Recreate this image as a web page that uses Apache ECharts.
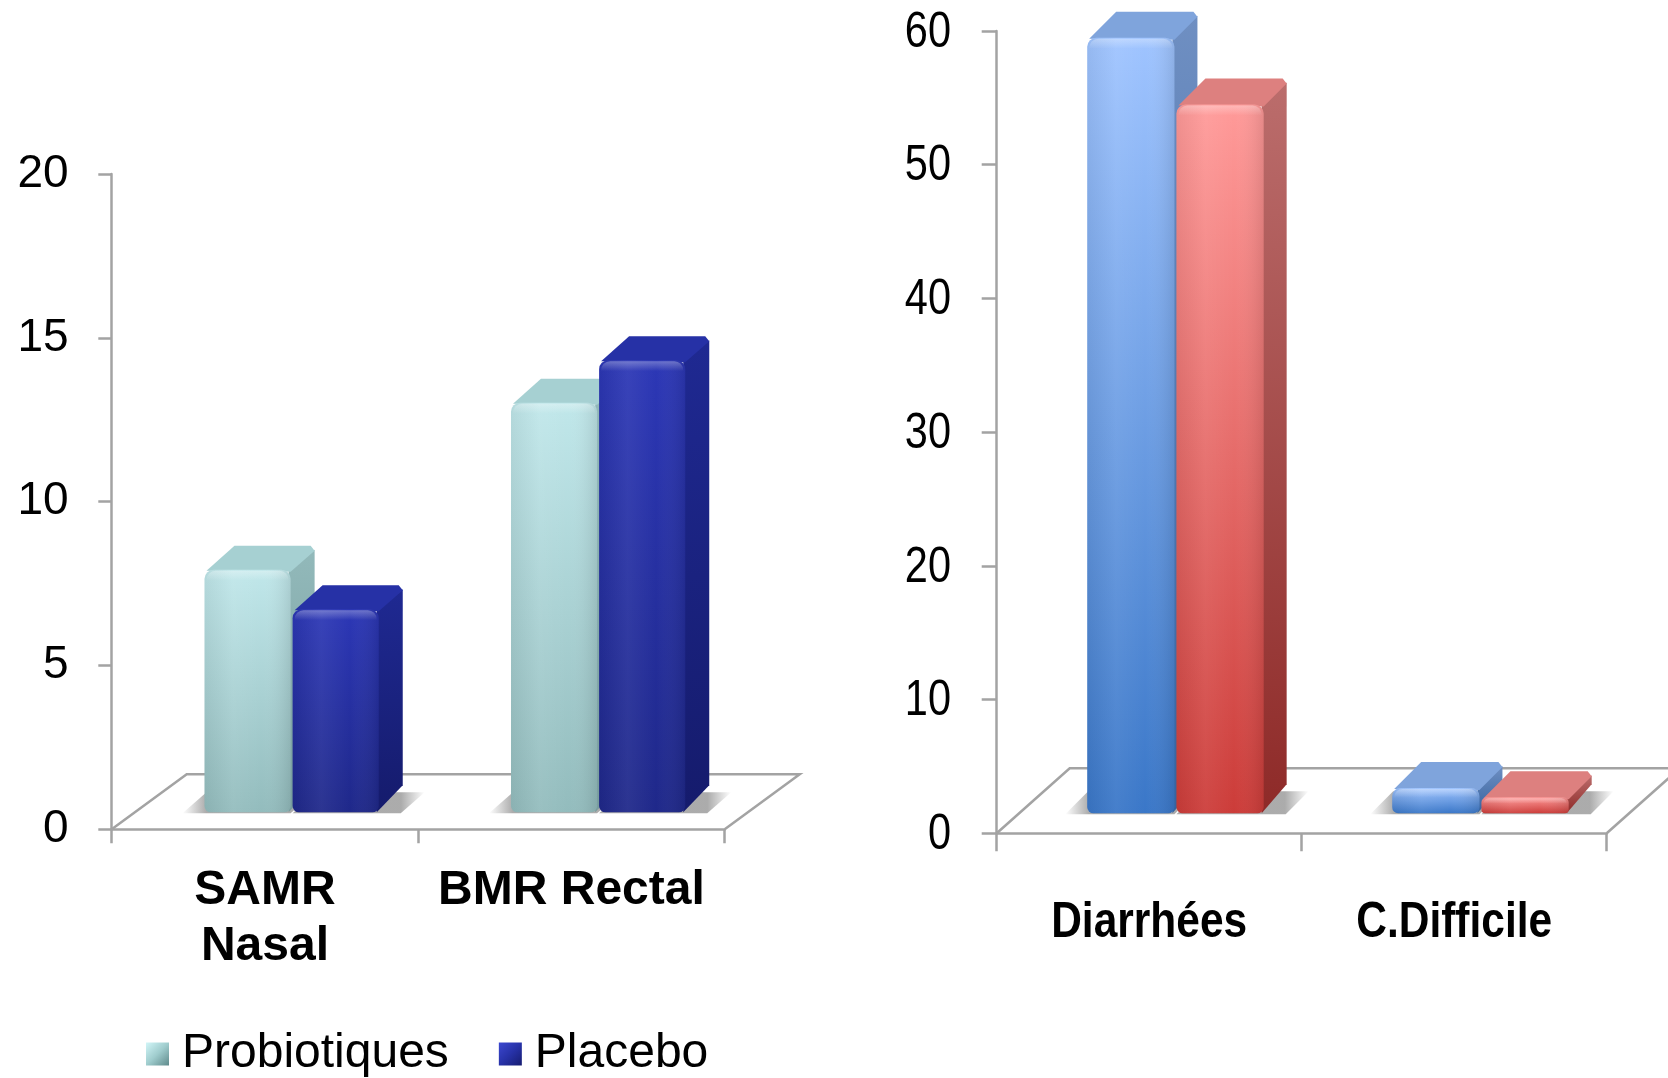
<!DOCTYPE html>
<html>
<head>
<meta charset="utf-8">
<script src="https://cdn.jsdelivr.net/npm/echarts@6/dist/echarts.min.js"></script>
<style>
  html, body { margin: 0; padding: 0; background: #fff; }
  #chart { width: 1668px; height: 1078px; }
</style>
</head>
<body>
<div id="chart"></div>
<script>
// ---- Colonisation (left panel) ----
const colonisationSites = ['SAMR\nNasal', 'BMR Rectal'];
const probiotiques = [7.4, 12.5];
const placebo = [6.2, 13.8];
const colonisationMax = 20;
const colonisationStep = 5;

// ---- Digestive outcomes (right panel) ----
const digestifCats = ['Diarrhées', 'C.Difficile'];
const digestifProbiotiques = [58, 1.9];
const digestifPlacebo = [53, 1.2];
const digestifTicks = [0, 10, 20, 30, 40, 50, 60];
const digestifMax = 60;
const digestifStep = 10;

const AXIS_GREY = '#a3a3a3';
const SANS = '"Liberation Sans", Arial, sans-serif';

const lg = (a, b, stops) => new echarts.graphic.LinearGradient(a[0], a[1], b[0], b[1],
  stops.map((c, i) => (typeof c === 'string' ? { offset: i / (stops.length - 1), color: c } : c)));

// Colour sets for the bevelled boxes
const palettes = {
  aqua:  { frontTop: '#c0e7ea', frontBot: '#93bcbd', top: '#a6d0d2', sideTop: '#92b9ba', sideBot: '#779c9d' },
  navy:  { frontTop: '#2c37b6', frontBot: '#1f288a', top: '#2631a6', sideTop: '#1f2992', sideBot: '#151b6c' },
  blue:  { frontTop: '#9fc4ff', frontBot: '#3a77c8', top: '#7fa4dc', sideTop: '#6f8fc2', sideBot: '#35639f' },
  red:   { frontTop: '#ff9a99', frontBot: '#cc3c39', top: '#dd807f', sideTop: '#bb6d6c', sideBot: '#8e2a28' }
};

// Geometry of the oblique 3-D look, per panel
const geomLeft  = { barFrac: 0.281, gap: 2, shiftFrac: 0.087, lift: 17, dx: 24, dy: -24, floor: { dx: 75, dy: -55 } };
const geomRight = { barFrac: 0.286, gap: 2, shiftFrac: 0.086, lift: 20, dx: 23, dy: -26, floor: { dx: 73, dy: -65 } };

const SHADE = 'rgba(70,70,70,';
function boxRenderer(slot, pal, g) {
  return function (params, api) {
    const cat = api.value(0);
    const val = api.value(1);
    const zero = api.coord([cat, 0]);
    const head = api.coord([cat, val]);
    const band = api.size([1, 0])[0];
    const barW = band * g.barFrac;
    const pairW = 2 * barW + g.gap;
    const x0 = zero[0] + band * g.shiftFrac - pairW / 2 + slot * (barW + g.gap);
    const yb = zero[1] - g.lift;
    const yt = head[1] - g.lift;
    const dx = g.dx, dy = g.dy;
    const h = yb - yt;
    const r = Math.min(9, h / 3);
    const sw = 22; // reach of the floor shadow beyond the box
    // the outer bar of each pair casts a soft shadow outward on the floor
    const shadow = slot === 0
      ? {
          type: 'polygon',
          shape: { points: [[x0 - sw, yb + 1], [x0 + barW, yb + 1], [x0 + barW + dx, yb + dy + 4], [x0 + dx - sw, yb + dy + 4]] },
          style: { fill: lg([0, 0], [1, 0], [
            { offset: 0, color: SHADE + '0)' }, { offset: 0.18, color: SHADE + '0.45)' }, { offset: 1, color: SHADE + '0.45)' }]) }
        }
      : {
          type: 'polygon',
          shape: { points: [[x0, yb + 1], [x0 + barW + sw, yb + 1], [x0 + barW + dx + sw, yb + dy + 4], [x0 + dx, yb + dy + 4]] },
          style: { fill: lg([0, 0], [1, 0], [
            { offset: 0, color: SHADE + '0.45)' }, { offset: 0.82, color: SHADE + '0.45)' }, { offset: 1, color: SHADE + '0)' }]) }
        };
    return {
      type: 'group',
      children: [
        shadow,
        // right side face
        {
          type: 'polygon',
          shape: { points: [[x0 + barW - 2, yt + 2], [x0 + barW + dx, yt + dy + 4], [x0 + barW + dx, yb + dy - 3], [x0 + barW - 2, yb]] },
          style: { fill: lg([0, 0], [0, 1], [pal.sideTop, pal.sideBot]) }
        },
        // top face
        {
          type: 'polygon',
          shape: { points: [[x0 + 2, yt + 1], [x0 + dx + 6, yt + dy], [x0 + barW + dx - 4, yt + dy], [x0 + barW + dx, yt + dy + 5], [x0 + barW, yt + 2]] },
          style: { fill: pal.top }
        },
        // front face
        {
          type: 'rect',
          shape: { x: x0, y: yt, width: barW, height: h, r: [r, r, r * 0.7, r * 0.7] },
          style: { fill: lg([0, 0], [0, 1], [pal.frontTop, pal.frontBot]) }
        },
        // horizontal shading across the front face
        {
          type: 'rect',
          shape: { x: x0, y: yt, width: barW, height: h, r: [r, r, r * 0.7, r * 0.7] },
          style: { fill: lg([0, 0], [1, 0], ['rgba(0,0,0,0.06)', 'rgba(255,255,255,0.06)', 'rgba(255,255,255,0)', 'rgba(0,0,0,0.10)']) }
        },
        // bevel highlight along the top edge
        {
          type: 'rect',
          shape: { x: x0 + 2, y: yt + 1, width: barW - 4, height: Math.min(10, h / 3), r: [r, r, 0, 0] },
          style: { fill: lg([0, 0], [0, 1], ['rgba(255,255,255,0.30)', 'rgba(255,255,255,0)']) }
        }
      ]
    };
  };
}

function floorRenderer(depth) {
  return function (params) {
    const cs = params.coordSys;
    const x1 = cs.x, x2 = cs.x + cs.width, y = cs.y + cs.height;
    return {
      type: 'polyline',
      silent: true,
      shape: { points: [[x1, y], [x1 + depth.dx, y + depth.dy], [x2 + depth.dx, y + depth.dy], [x2, y]] },
      style: { stroke: AXIS_GREY, lineWidth: 2.5, fill: null }
    };
  };
}

// Condensed labels for the right panel: real text, narrowed horizontally
const NARROW_SCALE = 0.83;
function valueLabelRenderer(margin, size) {
  return function (params, api) {
    const cs = params.coordSys;
    const p = api.coord([0, api.value(1)]);
    return {
      type: 'text', silent: true,
      x: cs.x - margin, y: p[1] + 2, scaleX: NARROW_SCALE, originX: 0, originY: 0,
      style: { text: String(api.value(1)), fill: '#000', fontFamily: SANS, fontSize: size,
               align: 'right', verticalAlign: 'middle' }
    };
  };
}
function categoryLabelRenderer(labels, offset, size) {
  return function (params, api) {
    const cs = params.coordSys;
    const i = api.value(0);
    const p = api.coord([i, 0]);
    return {
      type: 'text', silent: true,
      x: p[0], y: cs.y + cs.height + offset, scaleX: 0.85, originX: 0, originY: 0,
      style: { text: labels[i], fill: '#000', fontFamily: SANS, fontSize: size, fontWeight: 'bold',
               align: 'center', verticalAlign: 'middle' }
    };
  };
}

function valueAxis(gridIndex, max, step, size, margin, tickLen, showLabel) {
  return {
    type: 'value', gridIndex, min: 0, max, interval: step,
    axisLine: { show: true, lineStyle: { color: AXIS_GREY, width: 2.5 } },
    axisTick: { show: true, length: tickLen, lineStyle: { color: AXIS_GREY, width: 2.5 } },
    splitLine: { show: false },
    axisLabel: { show: showLabel, color: '#000', fontFamily: SANS, fontSize: size, margin, padding: [8, 0, 0, 0] }
  };
}

function categoryAxis(gridIndex, cats, size, lineHeight, margin, tickLen, showLabel) {
  return {
    type: 'category', gridIndex, data: cats, boundaryGap: true,
    axisLine: { show: true, lineStyle: { color: AXIS_GREY, width: 2.5 } },
    axisTick: { show: true, length: tickLen, lineStyle: { color: AXIS_GREY, width: 2.5 } },
    axisLabel: { show: showLabel, color: '#000', fontFamily: SANS, fontSize: size, fontWeight: 'bold', lineHeight, margin, interval: 0 }
  };
}

const toPairs = arr => arr.map((v, i) => [i, v]);

const chart = echarts.init(document.getElementById('chart'), null, { renderer: 'canvas' });
chart.setOption({
  animation: false,
  backgroundColor: '#ffffff',
  grid: [
    { left: 111.7, top: 174, width: 613, height: 655.3 },
    { left: 996.7, top: 31, width: 610, height: 802.3 }
  ],
  xAxis: [
    categoryAxis(0, colonisationSites, 48, 56, 33, 14, true),
    categoryAxis(1, digestifCats, 50, 50, 65, 18, false)
  ],
  yAxis: [
    valueAxis(0, colonisationMax, colonisationStep, 46, 43, 13.4, true),
    valueAxis(1, digestifMax, digestifStep, 50, 45, 15, false)
  ],
  legend: {
    left: 146, top: 1030, padding: 0,
    itemWidth: 23, itemHeight: 23, itemGap: 50,
    icon: 'rect', selectedMode: false,
    textStyle: { color: '#000', fontFamily: SANS, fontSize: 48, lineHeight: 48, padding: [0, 0, 0, 8] },
    data: [
      { name: 'Probiotiques', itemStyle: { color: lg([0, 0], [1, 1], ['#d2f6f8', '#9fcccd', '#5f8a8b']) } },
      { name: 'Placebo', itemStyle: { color: lg([0, 0], [1, 1], ['#3c48d0', '#2732a8', '#161c70']) } }
    ]
  },
  series: [
    { type: 'custom', name: 'sol-g', xAxisIndex: 0, yAxisIndex: 0, data: [[0, 0]], renderItem: floorRenderer(geomLeft.floor), silent: true, z: 1 },
    { type: 'custom', name: 'Probiotiques', xAxisIndex: 0, yAxisIndex: 0, data: toPairs(probiotiques), encode: { x: 0, y: 1 }, renderItem: boxRenderer(0, palettes.aqua, geomLeft), z: 2 },
    { type: 'custom', name: 'Placebo', xAxisIndex: 0, yAxisIndex: 0, data: toPairs(placebo), encode: { x: 0, y: 1 }, renderItem: boxRenderer(1, palettes.navy, geomLeft), z: 3 },
    { type: 'custom', name: 'sol-d', xAxisIndex: 1, yAxisIndex: 1, data: [[0, 0]], renderItem: floorRenderer(geomRight.floor), silent: true, z: 1 },
    { type: 'custom', name: 'Probiotiques', xAxisIndex: 1, yAxisIndex: 1, data: toPairs(digestifProbiotiques), encode: { x: 0, y: 1 }, renderItem: boxRenderer(0, palettes.blue, geomRight), z: 2 },
    { type: 'custom', name: 'Placebo', xAxisIndex: 1, yAxisIndex: 1, data: toPairs(digestifPlacebo), encode: { x: 0, y: 1 }, renderItem: boxRenderer(1, palettes.red, geomRight), z: 3 },
    { type: 'custom', name: 'graduations-d', xAxisIndex: 1, yAxisIndex: 1, data: digestifTicks.map(v => [0, v]), encode: { x: 0, y: 1 }, renderItem: valueLabelRenderer(45.7, 50), silent: true, z: 4 },
    { type: 'custom', name: 'categories-d', xAxisIndex: 1, yAxisIndex: 1, data: digestifCats.map((c, i) => [i, 0]), encode: { x: 0, y: 1 }, renderItem: categoryLabelRenderer(digestifCats, 90, 50), silent: true, z: 4 }
  ]
});
</script>
</body>
</html>
